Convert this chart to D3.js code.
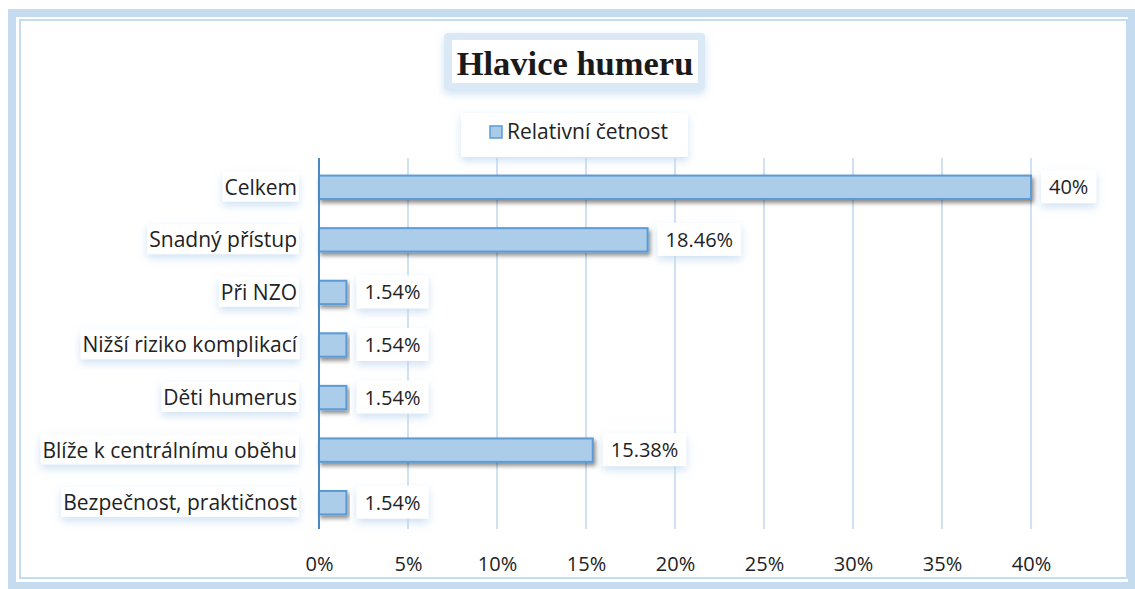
<!DOCTYPE html>
<html>
<head>
<meta charset="utf-8">
<script src="https://cdn.jsdelivr.net/npm/d3@7"></script>
<style>
  body { margin: 0; background: #fff; }
  text { font-family: "Open Sans", "Noto Sans", sans-serif; fill: #222; }
</style>
</head>
<body>
<div id="chart"></div>
<script>
// data
var categories = ["Celkem", "Snadný přístup", "Při NZO", "Nižší riziko komplikací",
                  "Děti humerus", "Blíže k centrálnímu oběhu", "Bezpečnost, praktičnost"];
var values = [40, 18.46, 1.54, 1.54, 1.54, 15.38, 1.54];
var valueLabels = ["40%", "18.46%", "1.54%", "1.54%", "1.54%", "15.38%", "1.54%"];
var ticks = [0, 5, 10, 15, 20, 25, 30, 35, 40];
var seriesName = "Relativní četnost";
var title = "Hlavice humeru";

var width = 1135,
    height = 589;
var margin = {top: 158, right: 104, bottom: 60, left: 319};
var fontSize = "20px";
var labelSize = "21px";

var svg = d3.select("#chart")
  .append("svg")
    .attr("width", width)
    .attr("height", height);

var defs = svg.append("defs");

// drop shadow under the bars
var shadow = defs.append("filter").attr("id", "barShadow")
    .attr("x", "-5%").attr("y", "-30%").attr("width", "115%").attr("height", "180%");
shadow.append("feDropShadow")
    .attr("dx", 2).attr("dy", 3).attr("stdDeviation", 2)
    .attr("flood-color", "#000").attr("flood-opacity", 0.45);

// soft blue glow around the label boxes
var glow = defs.append("filter").attr("id", "glow")
    .attr("x", "-20%").attr("y", "-40%").attr("width", "140%").attr("height", "200%");
glow.append("feDropShadow")
    .attr("dx", 0).attr("dy", 4).attr("stdDeviation", 4)
    .attr("flood-color", "#bcd6ef").attr("flood-opacity", 0.7);

// outer frame
svg.append("rect")
    .attr("x", 12).attr("y", 13)
    .attr("width", width - 15).attr("height", height - 16)
    .attr("fill", "none")
    .attr("stroke", "#c5dcf0")
    .attr("stroke-width", 8);
svg.append("rect")
    .attr("x", 20).attr("y", 20)
    .attr("width", 1107).attr("height", 558)
    .attr("fill", "#fff")
    .attr("stroke", "#c5dcf0")
    .attr("stroke-width", 2);

var x = d3.scaleLinear()
    .domain([0, 40])
    .range([margin.left, width - margin.right]);

var y = d3.scaleBand()
    .domain(categories)
    .range([161, 529])
    .paddingInner(0.555)
    .paddingOuter(0.2775);

// gridlines
svg.append("g")
  .selectAll("line")
  .data(ticks.slice(1))
  .enter()
  .append("line")
    .attr("x1", function(d) { return x(d); })
    .attr("x2", function(d) { return x(d); })
    .attr("y1", margin.top)
    .attr("y2", height - margin.bottom)
    .attr("stroke", "#cfe1f2")
    .attr("stroke-width", 2);

// title box
var titleG = svg.append("g");
titleG.append("rect")
    .attr("x", 444).attr("y", 33)
    .attr("width", 261).attr("height", 57)
    .attr("rx", 4)
    .attr("fill", "#dbe9f6")
    .attr("filter", "url(#glow)");
titleG.append("rect")
    .attr("x", 452).attr("y", 40)
    .attr("width", 246).attr("height", 43)
    .attr("fill", "#fff");
titleG.append("text")
    .attr("x", 575).attr("y", 75)
    .attr("text-anchor", "middle")
    .style("font-family", "'Liberation Serif', 'Times New Roman', serif")
    .style("font-weight", "bold")
    .style("font-size", "34.5px")
    .style("fill", "#1a1a1a")
    .text(title);

// legend box
var legend = svg.append("g");
legend.append("rect")
    .attr("x", 461).attr("y", 113)
    .attr("width", 227).attr("height", 44)
    .attr("fill", "#fff")
    .attr("filter", "url(#glow)");
legend.append("rect")
    .attr("x", 490).attr("y", 126)
    .attr("width", 12).attr("height", 12)
    .attr("fill", "#aacce9")
    .attr("stroke", "#5b9bd5")
    .attr("stroke-width", 1.5);
legend.append("text")
    .attr("x", 507).attr("y", 139)
    .style("font-size", labelSize)
    .text(seriesName);

// bars
svg.append("g")
  .selectAll("rect")
  .data(values)
  .enter()
  .append("rect")
    .attr("x", x(0))
    .attr("y", function(d, i) { return y(categories[i]); })
    .attr("width", function(d) { return x(d) - x(0); })
    .attr("height", y.bandwidth())
    .attr("fill", "#abcdea")
    .attr("stroke", "#5b9bd5")
    .attr("stroke-width", 2)
    .attr("filter", "url(#barShadow)");

// category labels with white boxes
var catG = svg.append("g")
  .selectAll("g")
  .data(categories)
  .enter()
  .append("g")
    .attr("transform", function(d) { return "translate(297," + (y(d) + y.bandwidth() / 2) + ")"; });
catG.append("text")
    .attr("text-anchor", "end")
    .attr("dy", "0.35em")
    .style("font-size", labelSize)
    .text(function(d) { return d; })
    .each(function() {
      var b = this.getBBox();
      d3.select(this.parentNode).insert("rect", "text")
        .attr("x", b.x - 2).attr("y", b.y - 1)
        .attr("width", b.width + 4).attr("height", b.height + 2)
        .attr("fill", "#fff")
        .attr("filter", "url(#glow)");
    });

// value labels with white boxes
var valG = svg.append("g")
  .selectAll("g")
  .data(values)
  .enter()
  .append("g")
    .attr("transform", function(d, i) {
      return "translate(" + (x(d) + 18) + "," + (y(categories[i]) + y.bandwidth() / 2) + ")";
    });
valG.append("text")
    .attr("dy", "0.35em")
    .style("font-size", fontSize)
    .text(function(d, i) { return valueLabels[i]; })
    .each(function() {
      var b = this.getBBox();
      d3.select(this.parentNode).insert("rect", "text")
        .attr("x", b.x - 8).attr("y", b.y - 3)
        .attr("width", b.width + 16).attr("height", b.height + 6)
        .attr("fill", "#fff")
        .attr("filter", "url(#glow)");
    });

// vertical axis line
svg.append("line")
    .attr("x1", x(0)).attr("x2", x(0))
    .attr("y1", margin.top).attr("y2", height - margin.bottom)
    .attr("stroke", "#4a88c7")
    .attr("stroke-width", 2);

// x axis tick labels
var xAxis = svg.append("g")
    .attr("transform", "translate(0," + (height - margin.bottom) + ")")
    .call(d3.axisBottom(x)
      .tickValues(ticks)
      .tickSize(0)
      .tickPadding(28)
      .tickFormat(function(d) { return d + "%"; }));
xAxis.select(".domain").remove();
xAxis.selectAll("text")
    .style("font-family", "'Open Sans', 'Noto Sans', sans-serif")
    .style("font-size", fontSize)
    .style("fill", "#222");
</script>
</body>
</html>
